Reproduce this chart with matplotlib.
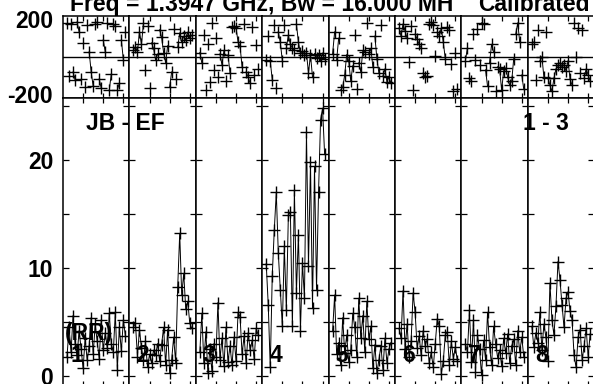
import numpy as np
import matplotlib
matplotlib.use("Agg")
import matplotlib.pyplot as plt
from matplotlib.transforms import blended_transform_factory

plt.rcParams['font.family'] = ['Liberation Sans', 'DejaVu Sans']
plt.rcParams['font.weight'] = 'bold'

channels = list(range(2, 32))
panel_labels = ["1", "2", "3", "4", "5", "6", "7", "8"]

amp1 = [1.8, 4.5, 2.2, 5.6, 3.0, 1.9, 4.2, 2.5, 0.7, 3.5, 1.5, 2.8, 5.4, 2.0, 4.8,
        3.2, 1.6, 5.2, 2.4, 4.0, 2.6, 5.8, 3.0, 2.2, 5.9, 0.6, 4.5, 2.3, 5.2, 3.7]
amp2 = [4.5, 4.9, 1.8, 4.3, 2.6, 1.5, 3.2, 0.8, 2.0, 1.2, 2.4, 1.9, 3.0, 1.4, 2.9,
        4.5, 1.0, 4.3, 0.3, 1.5, 3.6, 1.2, 8.2, 13.2, 7.5, 9.5, 6.2, 6.9, 4.9, 4.4]
amp3 = [2.2, 5.8, 1.2, 4.1, 0.3, 2.5, 0.5, 3.0, 1.8, 6.8, 1.5, 3.5, 0.9, 4.5, 1.3,
        2.8, 1.0, 3.6, 1.4, 5.9, 5.5, 2.0, 3.7, 1.2, 4.0, 2.4, 3.3, 1.6, 4.4, 3.8]
amp4 = [10.4, 6.6, 0.8, 9.3, 13.5, 17.0, 11.4, 8.0, 4.6, 12.0, 6.1, 14.9, 15.2, 4.6, 17.2,
        7.7, 13.1, 4.2, 10.5, 7.2, 22.6, 10.2, 19.8, 6.3, 19.4, 8.0, 17.0, 23.7, 24.8, 20.6]
amp5 = [4.2, 7.5, 2.0, 3.1, 1.0, 5.4, 2.1, 3.8, 1.3, 2.4, 5.8, 4.5, 1.8, 7.2, 3.5,
        5.6, 2.2, 6.9, 3.4, 4.6, 0.7, 2.9, 0.3, 1.5, 2.8, 0.6, 3.5, 1.2, 2.5, 3.1]
amp6 = [4.4, 3.5, 7.9, 2.5, 4.8, 1.8, 3.2, 7.7, 5.9, 2.6, 3.7, 1.9, 4.2, 2.8, 3.4,
        1.2, 2.2, 0.8, 3.0, 5.3, 4.6, 0.2, 1.4, 3.8, 4.1, 1.0, 3.2, 1.6, 2.7, 1.4]
amp7 = [3.0, 2.2, 6.1, 1.3, 5.2, 0.4, 3.8, 2.5, 0.1, 3.3, 1.5, 5.9, 2.7, 1.0, 4.6,
        3.0, 1.7, 2.4, 0.9, 3.5, 2.1, 3.9, 1.2, 2.8, 3.4, 1.0, 4.2, 2.2, 3.6, 1.8]
amp8 = [4.6, 2.7, 4.0, 3.1, 5.9, 2.4, 4.8, 3.6, 1.4, 8.6, 5.2, 3.8, 6.5, 10.6, 8.9,
        6.6, 4.5, 7.2, 7.8, 6.0, 5.2, 1.9, 0.8, 3.6, 4.3, 1.5, 2.8, 4.4, 1.8, 3.9]

ph1 = [165, -95, 160, -75, -114, 170, 121, -108, 67, -148, 155, 23, -75, -145, 160,
       170, -110, -155, 82, 23, 165, -163, -85, 160, 150, -163, -130, 82, -16, 120]
ph2 = [30, 48, 23, 121, 60, 165, -65, 150, -154, 67, 40, -16, 13, 131, 95,
       20, -30, 53, -148, -75, 136, -110, 45, 116, 70, 100, 80, 120, 90, 105]
ph3 = [20, -31, 107, -163, 60, -124, 165, -65, 90, -100, 13, -40, 30, -120, 10,
       -80, 146, 150, 140, 72, 50, -50, 160, -75, -100, -130, 145, -90, 55, -60]
ph4 = [-16, 100, -21, -114, 155, -153, 121, 70, -20, 155, 43, 104, 60, 43, 30,
       160, 70, 18, 25, 10, 18, -80, 8, -100, 15, -5, 8, -20, 18, -10]
ph5 = [15, 121, -16, 90, -163, -150, -90, 10, -21, -120, -45, 107, -160, -30, -75,
       30, 23, 165, 15, 40, -50, 100, -10, -80, 155, -95, -60, -124, -100, -130]
ph6 = [140, 100, 160, 125, 90, -26, 150, -163, 110, 85, 60, 43, -80, -100, -95,
       160, 170, 155, 5, 120, 100, 140, 70, -10, 145, 130, -35, -170, 20, -160]
ph7 = [-20, 43, -105, -120, 110, -16, 135, -40, 165, 160, -65, -145, -30, 60, 23,
       -170, -50, -60, -165, -70, -55, -100, -140, -120, -10, 110, 165, 70, -90, -160]
ph8 = [60, 72, -114, 131, -20, 0, -100, 121, -105, -140, -170, -105, -60, -40, -30,
       -50, -40, -70, -20, -110, -140, 165, 0, 140, -80, 130, -105, -60, -90, -120]

amps = [amp1, amp2, amp3, amp4, amp5, amp6, amp7, amp8]
phases = [ph1, ph2, ph3, ph4, ph5, ph6, ph7, ph8]

W, H = 593, 384
fig = plt.figure(figsize=(W / 100, H / 100), dpi=100)

left = 63.0
pw = 66.4
ph_top, mid, amp_bot = 15.7, 97.5, 385.5
amp_lim = ((376 - amp_bot) / 10.8, (376 - mid) / 10.8)
FS = 16.5
mk = dict(marker='+', markersize=9, markeredgewidth=1.0, color='black')


def px(x, y):
    return x / W, 1 - y / H


def style(ax):
    for s in ax.spines.values():
        s.set_linewidth(1.1)
        s.set_color('black')
    ax.set_xlim(0, 33)
    ax.set_xticks([10, 20, 30])
    ax.tick_params(axis='x', direction='in', length=3.5, width=0.9,
                   top=True, bottom=True, labelbottom=False)


for i in range(8):
    x0 = left + i * pw
    axp = fig.add_axes([x0 / W, 1 - mid / H, pw / W, (mid - ph_top) / H])
    axa = fig.add_axes([x0 / W, 1 - amp_bot / H, pw / W, (amp_bot - mid) / H])
    for ax in (axp, axa):
        style(ax)
    # phase panel
    ph = np.array(phases[i], dtype=float)
    ch = np.array(channels, dtype=float)
    xs, ys = [], []
    for k in range(len(ch)):
        if k > 0 and abs(ph[k] - ph[k - 1]) > 110:
            xs.append(np.nan)
            ys.append(np.nan)
        xs.append(ch[k])
        ys.append(ph[k])
    axp.plot(xs, ys, color='black', lw=0.7)
    axp.plot(ch, ph, linestyle='none', **mk)
    axp.axhline(0, color='black', lw=1.0)
    axp.set_ylim(-200, 200)
    axp.set_yticks([])
    # amplitude panel
    axa.plot(ch, amps[i], color='black', lw=0.7)
    axa.plot(ch, amps[i], linestyle='none', **mk)
    axa.set_ylim(*amp_lim)
    axa.set_yticks([0, 10, 20])
    axa.set_yticks([5, 15, 25], minor=True)
    axa.tick_params(axis='y', which='both', direction='in', length=4, width=0.9,
                    left=True, right=True, labelleft=(i == 0), pad=7)
    for lab in axa.get_yticklabels():
        lab.set_fontsize(FS)
        lab.set_fontweight('bold')
    axa.text(7 / pw, 1.94, panel_labels[i],
             transform=blended_transform_factory(axa.transAxes, axa.transData),
             fontsize=FS, fontweight='bold', va='center', ha='left')
    if i == 0:
        tr = blended_transform_factory(axp.transAxes, axp.transData)
        axp.text(-10 / pw, 174, "200", transform=tr, ha='right', va='center',
                 fontsize=FS, fontweight='bold')
        axp.text(-10 / pw, -194, "-200", transform=tr, ha='right', va='center',
                 fontsize=FS, fontweight='bold')
        axa.text(2 / pw, 3.9, "(RR)", transform=blended_transform_factory(axa.transAxes, axa.transData),
                 fontsize=FS, fontweight='bold', va='center', ha='left')

fig.text(*px(86, 123), "JB - EF", fontsize=FS, fontweight='bold', va='center', ha='left')
fig.text(*px(523, 123), "1 - 3", fontsize=FS, fontweight='bold', va='center', ha='left')
fig.text(*px(70, 11), "Freq = 1.3947 GHz, Bw = 16.000 MH", fontsize=FS,
         fontweight='bold', va='baseline', ha='left')
fig.text(*px(478, 11), "Calibrated", fontsize=FS, fontweight='bold', va='baseline', ha='left')

fig.savefig("out.png", dpi=100)
